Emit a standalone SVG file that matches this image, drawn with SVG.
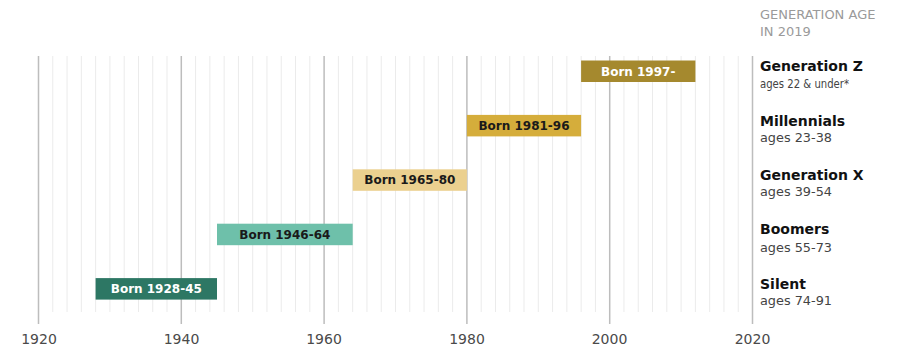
<svg xmlns="http://www.w3.org/2000/svg" width="903" height="361" viewBox="0 0 903 361">
<style>
.minor{stroke:#ebebeb;stroke-width:1;fill:none}
.major{stroke:#bdbdbd;stroke-width:1.5;fill:none}
.axis{font-family:"DejaVu Sans",sans-serif;font-size:14px;fill:#4a4a4a;text-anchor:middle}
.hdr{font-family:"DejaVu Sans",sans-serif;font-size:13px;fill:#9a9a9a}
.gen{font-family:"DejaVu Sans",sans-serif;font-size:14px;font-weight:bold;fill:#111}
.age{font-family:"DejaVu Sans",sans-serif;font-size:12.5px;fill:#444}
.bl{font-family:"DejaVu Sans",sans-serif;font-size:12px;font-weight:bold;text-anchor:middle}
</style>
<rect width="903" height="361" fill="#fff"/>
<g id="grid">
<path class="minor" d="M52.78 56V312M67.06 56V312M81.34 56V312M95.62 56V312M109.9 56V312M124.18 56V312M138.46 56V312M152.74 56V312M167.02 56V312M195.58 56V312M209.86 56V312M224.14 56V312M238.42 56V312M252.7 56V312M266.98 56V312M281.26 56V312M295.54 56V312M309.82 56V312M338.38 56V312M352.66 56V312M366.94 56V312M381.22 56V312M395.5 56V312M409.78 56V312M424.06 56V312M438.34 56V312M452.62 56V312M481.18 56V312M495.46 56V312M509.74 56V312M524.02 56V312M538.3 56V312M552.58 56V312M566.86 56V312M581.14 56V312M595.42 56V312M623.98 56V312M638.26 56V312M652.54 56V312M666.82 56V312M681.1 56V312M695.38 56V312M709.66 56V312M723.94 56V312M738.22 56V312"/>
<path class="major" d="M38.5 56V324M181.3 56V324M324.1 56V324M466.9 56V324M609.7 56V324M752.5 56V324"/>
</g>
<g id="axis-labels">
<text class="axis" x="39" y="344">1920</text>
<text class="axis" x="181.5" y="344">1940</text>
<text class="axis" x="324" y="344">1960</text>
<text class="axis" x="467" y="344">1980</text>
<text class="axis" x="609.5" y="344">2000</text>
<text class="axis" x="752.5" y="344">2020</text>
</g>
<g id="header">
<text class="hdr" x="760" y="19">GENERATION AGE</text>
<text class="hdr" x="760" y="36">IN 2019</text>
</g>
<g id="gen-z">
<rect x="581.1" y="60.5" width="114.3" height="21.5" fill="#a5892e"/>
<text class="bl" x="638.2" y="75.5" fill="#fff">Born 1997-</text>
<text class="gen" x="760" y="71">Generation Z</text>
<text class="age" x="760" y="87.5" textLength="89" lengthAdjust="spacingAndGlyphs">ages 22 &amp; under*</text>
</g>
<g id="millennials">
<rect x="466.9" y="114.9" width="114.2" height="21.5" fill="#d5ad3b"/>
<text class="bl" x="524" y="129.9" fill="#1a1a1a">Born 1981-96</text>
<text class="gen" x="760" y="125.5">Millennials</text>
<text class="age" x="760" y="142" textLength="72" lengthAdjust="spacingAndGlyphs">ages 23-38</text>
</g>
<g id="gen-x">
<rect x="352.7" y="169.3" width="114.2" height="21.5" fill="#ebd08f"/>
<text class="bl" x="409.8" y="184.3" fill="#1a1a1a">Born 1965-80</text>
<text class="gen" x="760" y="179.5">Generation X</text>
<text class="age" x="760" y="196" textLength="72" lengthAdjust="spacingAndGlyphs">ages 39-54</text>
</g>
<g id="boomers">
<rect x="217" y="223.7" width="135.7" height="21.5" fill="#6ec0aa"/>
<text class="bl" x="284.8" y="238.7" fill="#1a1a1a">Born 1946-64</text>
<text class="gen" x="760" y="234">Boomers</text>
<text class="age" x="760" y="251.5" textLength="72" lengthAdjust="spacingAndGlyphs">ages 55-73</text>
</g>
<g id="silent">
<rect x="95.6" y="278.1" width="121.4" height="21.5" fill="#2d7764"/>
<text class="bl" x="156.3" y="293.1" fill="#fff">Born 1928-45</text>
<text class="gen" x="760" y="288.5">Silent</text>
<text class="age" x="760" y="305" textLength="72" lengthAdjust="spacingAndGlyphs">ages 74-91</text>
</g>
</svg>
